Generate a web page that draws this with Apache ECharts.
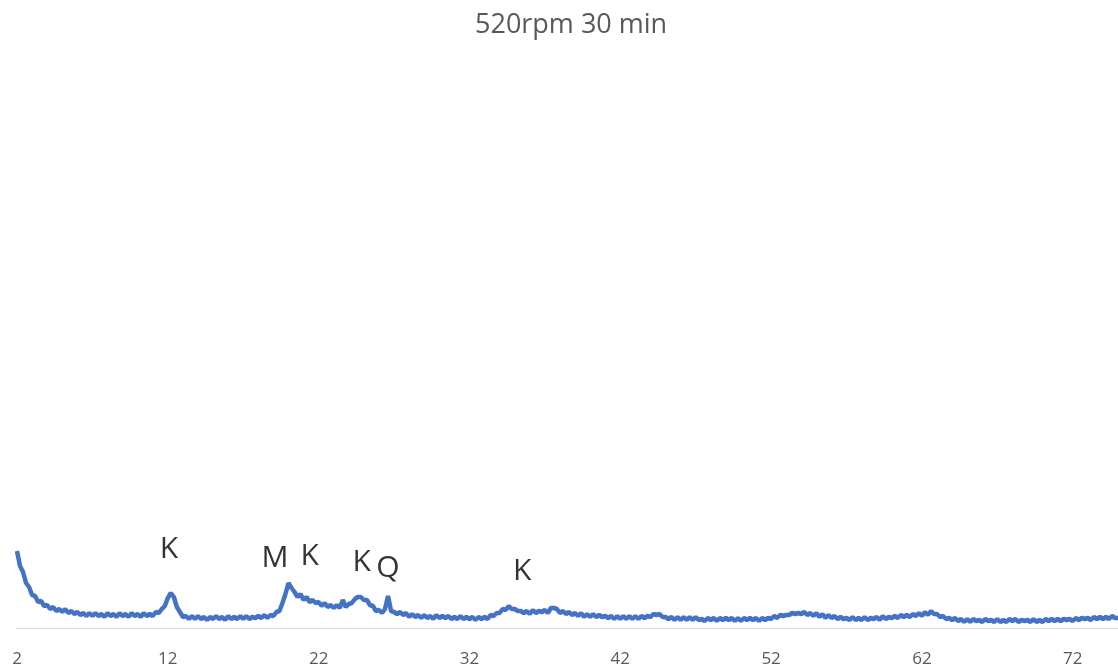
<!DOCTYPE html>
<html>
<head>
<meta charset="utf-8">
<script src="https://cdn.jsdelivr.net/npm/echarts@6/dist/echarts.min.js"></script>
<style>
html,body{margin:0;padding:0;background:#fff;}
#chart{width:1118px;height:668px;}
</style>
</head>
<body>
<div id="chart"></div>
<script>
// 2-theta sampling grid (degrees)
const angleStart = 2;
const angleStep = 0.2;
// Intensity (arbitrary units), one row per degree
const intensity = [
  77, 62, 56, 45, 41,   // 2
  33, 32, 26, 27, 22,   // 3
  23, 19, 21, 17, 19,   // 4
  16, 19, 15, 17, 14,   // 5
  16, 13, 15, 12, 15,   // 6
  12, 15, 12, 14, 11,   // 7
  15, 12, 14, 11, 15,   // 8
  12, 14, 11, 15, 12,   // 9
  14, 11, 15, 12, 14,   // 10
  12, 16, 15, 19, 22,   // 11
  30, 35, 31, 21, 16,   // 12
  11, 12, 9, 12, 9,     // 13
  12, 9, 11, 8, 11,     // 14
  9, 12, 9, 11, 8,      // 15
  12, 9, 11, 9, 12,     // 16
  9, 12, 9, 11, 10,     // 17
  12, 10, 13, 10, 13,   // 18
  12, 16, 17, 25, 34,   // 19
  45, 40, 36, 31, 34,   // 20
  28, 31, 26, 28, 25,   // 21
  26, 22, 25, 21, 23,   // 22
  20, 23, 20, 28, 21,   // 23
  24, 25, 29, 31, 31,   // 24
  28, 28, 23, 22, 17,   // 25
  18, 15, 19, 32, 17,   // 26
  16, 14, 16, 13, 15,   // 27
  11, 14, 11, 13, 10,   // 28
  13, 10, 12, 9, 13,    // 29
  10, 12, 10, 12, 9,    // 30
  11, 9, 12, 9, 11,     // 31
  9, 11, 8, 11, 9,      // 32
  11, 9, 13, 12, 15,    // 33
  15, 19, 18, 22, 19,   // 34
  19, 17, 17, 15, 17,   // 35
  14, 18, 15, 17, 16,   // 36
  18, 15, 20, 20, 19,   // 37
  15, 17, 14, 16, 13,   // 38
  15, 12, 15, 11, 14,   // 39
  11, 14, 11, 13, 11,   // 40
  12, 10, 12, 9, 12,    // 41
  9, 12, 9, 12, 9,      // 42
  12, 9, 12, 10, 12,    // 43
  11, 14, 13, 14, 11,   // 44
  11, 9, 11, 8, 11,     // 45
  8, 11, 8, 11, 8,      // 46
  11, 8, 9, 7, 10,      // 47
  8, 10, 7, 10, 8,      // 48
  10, 8, 10, 7, 10,     // 49
  7, 10, 8, 10, 8,      // 50
  10, 7, 10, 8, 10,     // 51
  9, 12, 10, 13, 12,    // 52
  13, 13, 15, 14, 15,   // 53
  14, 16, 13, 15, 12,   // 54
  15, 11, 14, 10, 13,   // 55
  10, 12, 9, 11, 9,     // 56
  10, 8, 11, 8, 10,     // 57
  8, 11, 8, 10, 9,      // 58
  11, 8, 12, 9, 11,     // 59
  10, 12, 10, 13, 11,   // 60
  13, 11, 14, 12, 15,   // 61
  12, 16, 13, 17, 14,   // 62
  14, 11, 12, 9, 10,    // 63
  8, 10, 7, 9, 6,       // 64
  9, 6, 9, 7, 8,        // 65
  6, 9, 7, 8, 6,        // 66
  9, 6, 8, 6, 9,        // 67
  7, 9, 6, 8, 7,        // 68
  8, 6, 9, 6, 8,        // 69
  6, 9, 7, 9, 7,        // 70
  9, 7, 9, 8, 9,        // 71
  7, 10, 8, 10, 9,      // 72
  10, 8, 11, 9, 11,     // 73
  9, 11, 9, 12, 10,     // 74
  10                    // 75
];
const tickLabels = [2, 12, 22, 32, 42, 52, 62, 72];
const peakLabels = ['K', 'M', 'K', 'K', 'Q', 'K'];
const peakAngles = [12.07, 19.1, 21.4, 24.86, 26.6, 35.5];
const peakHeights = [79, 70, 72, 66, 60, 57];

const lineData = intensity.map((v, i) => [+(angleStart + i * angleStep).toFixed(2), v]);
const labelData = peakLabels.map((t, i) => [peakAngles[i], peakHeights[i], t]);

const chart = echarts.init(document.getElementById('chart'), null, {renderer: 'canvas'});
chart.setOption({
  animation: false,
  backgroundColor: '#ffffff',
  title: {
    text: '520rpm 30 min',
    left: 470,
    top: 7,
    textStyle: {color: '#595959', fontSize: 27, fontWeight: 'normal', fontFamily: 'Open Sans'}
  },
  grid: {left: 17, right: 0, top: 50, bottom: 40, containLabel: false},
  xAxis: {
    type: 'value',
    min: 2,
    max: 75,
    axisLine: {show: true, lineStyle: {color: '#D9D9D9', width: 1}},
    axisTick: {show: false},
    splitLine: {show: false},
    axisLabel: {
      customValues: tickLabels,
      color: '#595959',
      fontSize: 17,
      fontFamily: 'Open Sans',
      margin: 23
    }
  },
  yAxis: {
    type: 'value',
    min: 0,
    max: 578,
    show: false,
    splitLine: {show: false}
  },
  series: [
    {
      type: 'line',
      data: lineData,
      showSymbol: false,
      lineStyle: {color: '#4472C4', width: 4.5},
      itemStyle: {color: '#4472C4'},
      z: 2
    },
    {
      type: 'scatter',
      data: labelData,
      symbolSize: 1,
      itemStyle: {color: 'transparent'},
      label: {
        show: true,
        position: 'inside',
        formatter: p => p.value[2],
        color: '#000000',
        fontSize: 30,
        fontFamily: 'Open Sans'
      },
      z: 3
    }
  ]
});
</script>
</body>
</html>
